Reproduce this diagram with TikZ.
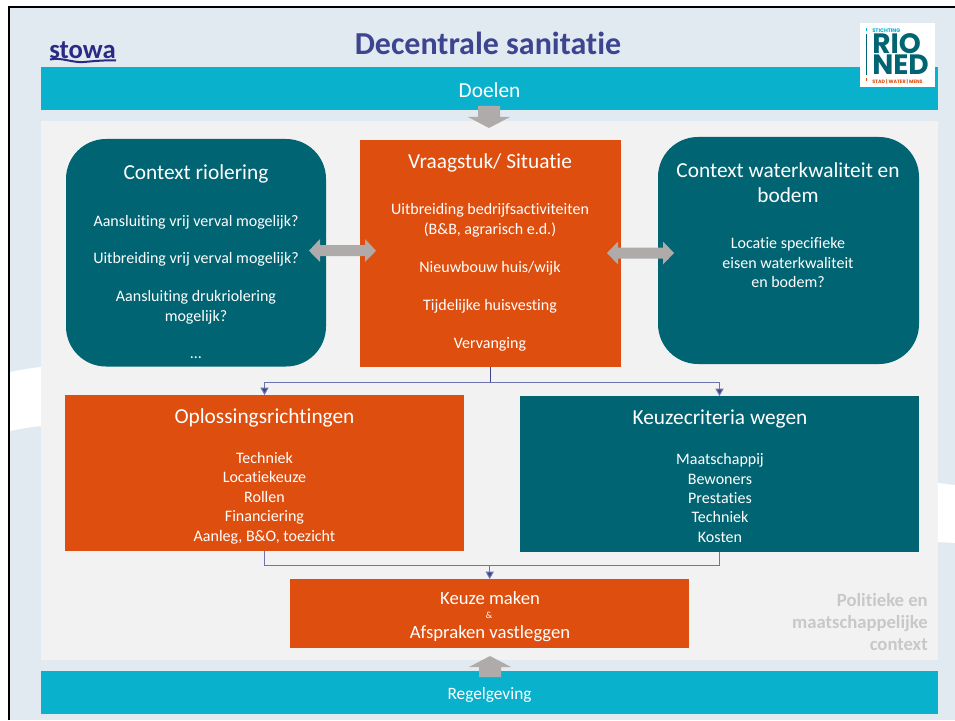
\documentclass[tikz,border=0pt]{standalone}
\usepackage{fontspec}
\setmainfont[Ligatures=NoCommon]{Carlito}
\newfontfamily\logofont{Poppins}
\usetikzlibrary{arrows.meta}
\definecolor{pagebg}{HTML}{E2EAF1}
\definecolor{panel}{HTML}{F2F2F2}
\definecolor{cyanbar}{HTML}{0AB1CC}
\definecolor{tealbox}{HTML}{006472}
\definecolor{orangebox}{HTML}{DD4E0F}
\definecolor{arrowgrey}{HTML}{AFABAB}
\definecolor{linkblue}{HTML}{3D4590}
\definecolor{ctxgrey}{HTML}{C8C8C8}
\definecolor{stowablue}{HTML}{2A2A85}
\newcommand{\fs}[2]{\fontsize{#1}{#2}\selectfont}
\tikzset{
 x=0.75pt,y=-0.75pt,
 block/.style={draw=none,inner sep=0pt,outer sep=0pt,anchor=north west},
 head/.style={text=white,align=center,inner sep=0pt,font=\fs{16}{18.7}},
 body/.style={text=white,align=center,inner sep=0pt,font=\fs{12}{14.6}},
 link/.style={draw=linkblue!75!white,line width=0.75pt},
 tip/.style={-{Triangle[length=5.5pt,width=6pt,fill=linkblue]},draw=linkblue!75!white,line width=0.75pt},
 bigarrow/.style={fill=arrowgrey,draw=none},
}
\begin{document}
\begin{tikzpicture}
\useasboundingbox (0,0) rectangle (955,720);
\fill[white] (0,0) rectangle (955,720);
% page
\fill[pagebg] (10,8) rectangle (955,720);
\draw[black,line width=1.8pt] (9,720) -- (9,7.2) -- (955,7.2);
% white band behind
\fill[white] (10,372) .. controls (20,370) and (30,368) .. (41,367) -- (41,426) .. controls (30,427) and (20,429) .. (10,431) -- cycle;
\fill[white] (938,483) -- (955,485) -- (955,543) -- (938,542) -- cycle;
% panel
\fill[panel] (41,121) rectangle (938,660);
% bars
\node[block,fill=cyanbar,minimum width=897*0.75pt,minimum height=43*0.75pt] (doelen) at (41,67) {};
\node[text=white,inner sep=0pt,font=\fs{16}{18}] (doelent) at (489.5,90) {Doelen};
\node[block,fill=cyanbar,minimum width=897*0.75pt,minimum height=43*0.75pt] (regel) at (41,671) {};
\node[text=white,inner sep=0pt,font=\fs{13}{15}] (regelt) at (489.5,694.5) {Regelgeving};
% title
\node[text=linkblue,inner sep=0pt,font=\fs{24}{28}\bfseries] (title) at (488,43) {Decentrale sanitatie};
% stowa logo
\node[inner sep=0pt,text=stowablue,font=\fs{20}{22}\bfseries] (stowa) at (82.5,50) {stowa};
\draw[stowablue,line width=1.5pt] (50,59.5) .. controls (62,57) and (72,63) .. (84,62) .. controls (95,61) and (105,60) .. (116,60.5);
% rioned logo
\fill[white] (860,23) rectangle (935,87);
\fill[cyanbar] (865.5,28) rectangle (866.5,31);
\fill[tealbox] (865.5,34) rectangle (866.5,75);
\fill[orangebox] (865.5,78) rectangle (866.5,81);
\node[inner sep=0pt,anchor=north west,align=left,font=\logofont\bfseries] (rioned) at (872,28.5) {%
\fs{3.9}{4}\textcolor{cyanbar}{STICHTING}\\
\fs{21}{17.6}\textcolor{tealbox}{RIO}\\
\fs{21}{15.75}\textcolor{tealbox}{NED}\\[-5.5pt]
\fs{3.6}{5.25}\textcolor{orangebox}{STAD | WATER | MENS}};
% boxes
\node[block,fill=tealbox,rounded corners=30pt,minimum width=260*0.75pt,minimum height=227.5*0.75pt] (cr) at (66,139) {};
\node[block,fill=orangebox,minimum width=261*0.75pt,minimum height=227*0.75pt] (vs) at (360,140) {};
\node[block,fill=tealbox,rounded corners=30pt,minimum width=261*0.75pt,minimum height=227*0.75pt] (cw) at (658,137) {};
\node[block,fill=orangebox,minimum width=399*0.75pt,minimum height=156*0.75pt] (op) at (65,395) {};
\node[block,fill=tealbox,minimum width=399*0.75pt,minimum height=156*0.75pt] (kc) at (520,396) {};
\node[block,fill=orangebox,minimum width=399*0.75pt,minimum height=69*0.75pt] (km) at (290,579) {};
% texts: context riolering
\node[head] (crh) at (196,173.5) {Context riolering};
\node[body] (crb) at (196,287) {Aansluiting vrij verval mogelijk?\\[13.2pt]Uitbreiding vrij verval mogelijk?\\[14pt]Aansluiting drukriolering\\mogelijk?\\[13.2pt]…};
% vraagstuk
\node[head] (vsh) at (490,163) {Vraagstuk/ Situatie};
\node[body] (vsb) at (490,277.5) {Uitbreiding bedrijfsactiviteiten\\(B\&B, agrarisch e.d.)\\[14pt]Nieuwbouw huis/wijk\\[14pt]Tijdelijke huisvesting\\[14pt]Vervanging};
% context water
\node[head] (cwh) at (788,183) {Context waterkwaliteit en\\bodem};
\node[body] (cwb) at (788,262.5) {Locatie specifieke\\eisen waterkwaliteit\\en bodem?};
% oplossing
\node[head] (oph) at (264.5,418) {Oplossingsrichtingen};
\node[body] (opb) at (264.5,498) {Techniek\\Locatiekeuze\\Rollen\\Financiering\\Aanleg, B\&O, toezicht};
% keuzecriteria
\node[head] (kch) at (720,419) {Keuzecriteria wegen};
\node[body] (kcb) at (720,498) {Maatschappij\\Bewoners\\Prestaties\\Techniek\\Kosten};
% keuze maken
\node[text=white,inner sep=0pt,font=\fs{14}{16}] (km1) at (490,598) {Keuze maken};
\node[text=white,inner sep=0pt,font=\fs{7}{8}] (km2) at (489,615) {\&};
\node[text=white,inner sep=0pt,font=\fs{14}{16}] (km3) at (490,634) {Afspraken vastleggen};
% context label
\node[anchor=east,text=ctxgrey,align=right,inner sep=0pt,font=\fs{14}{16.5}\bfseries] (pol) at (928,622.5) {Politieke en\\maatschappelijke\\context};
% big arrows
\fill[bigarrow] (309,250.7) -- (320,239) -- (320,245) -- (365,245) -- (365,239) -- (376,250.7) -- (365,262) -- (365,256) -- (320,256) -- (320,262) -- cycle;
\fill[bigarrow] (607,253) -- (618,241.5) -- (618,247.5) -- (663,247.5) -- (663,241.5) -- (674,253) -- (663,264.5) -- (663,258.5) -- (618,258.5) -- (618,264.5) -- cycle;
\fill[bigarrow] (478,106) -- (500,106) -- (500,117) -- (510,117) -- (489,128) -- (468,117) -- (478,117) -- cycle;
\fill[bigarrow] (479,677) -- (501,677) -- (501,667) -- (511,667) -- (490,656) -- (469,667) -- (479,667) -- cycle;
% connectors
\coordinate (j1) at (490.3,382);
\coordinate (j2) at (489.7,565);
\draw[link,draw=linkblue] (j1 |- vs.south) -- (j1);
\draw[tip] (j1) -| (op.north);
\draw[tip] (j1) -| (kc.north);
\draw[link] (op.south) |- (j2);
\draw[link] (kc.south) |- (j2);
\draw[tip] (j2) -- (j2 |- km.north);
\end{tikzpicture}
\end{document}
